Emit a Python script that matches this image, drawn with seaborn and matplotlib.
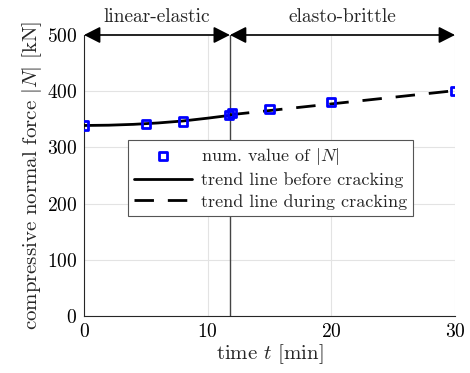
import numpy as np
import pandas as pd
import matplotlib
matplotlib.use("Agg")
import matplotlib.pyplot as plt
import seaborn as sns

# ==========================
# Data
# ==========================

t_points = [0, 5, 8, 11.7, 12.0, 15, 20, 30]
n_points = [339, 341, 346, 357, 361, 368, 381, 401]

t_before = [0, 2, 4, 6, 8, 10, 11.8]
n_before = [339, 339.5, 341, 343.5, 347, 352, 357]

t_during = [11.8, 30]
n_during = [358, 401]

t_crack = 11.8
phase_labels = ["linear-elastic", "elasto-brittle"]

# ==========================
# Style
# ==========================

sns.set_style("white")
plt.rcParams["font.family"] = ["cmr10", "DejaVu Serif"]
plt.rcParams["mathtext.fontset"] = "cm"
plt.rcParams["axes.formatter.use_mathtext"] = True
plt.rcParams["font.size"] = 14

fig = plt.figure(figsize=(4.7, 3.73), dpi=100)
ax = fig.add_axes([0.1787, 0.1528, 0.7894, 0.7534])

pts = pd.DataFrame({"t": t_points, "N": n_points})
before = pd.DataFrame({"t": t_before, "N": n_before})
during = pd.DataFrame({"t": t_during, "N": n_during})

sns.lineplot(data=before, x="t", y="N", ax=ax, color="black", lw=2,
             label="trend line before cracking", zorder=3)
sns.lineplot(data=during, x="t", y="N", ax=ax, color="black", lw=2,
             label="trend line during cracking", zorder=3)
ax.lines[-1].set_dashes([7, 5])
sns.scatterplot(data=pts, x="t", y="N", ax=ax, marker="s", s=34,
                facecolor="none", edgecolor="blue", linewidth=2,
                label="num. value of $|N|$", zorder=4)

ax.axvline(t_crack, color="#444444", lw=1, zorder=2)

ax.set_xlim(0, 30)
ax.set_ylim(0, 500)
ax.set_xticks([0, 10, 20, 30])
ax.set_yticks([0, 100, 200, 300, 400, 500])
ax.grid(True, color="#e3e3e3", lw=0.8)
ax.set_axisbelow(True)
for s in ["top", "right"]:
    ax.spines[s].set_visible(False)
for s in ["left", "bottom"]:
    ax.spines[s].set_color("#262626")
    ax.spines[s].set_linewidth(0.8)
ax.tick_params(direction="in", length=4, width=0.8, colors="#262626",
               labelcolor="black", labelsize=14, pad=5)

ax.set_xlabel("time $t$ [min]", fontsize=15, labelpad=1)
ax.set_ylabel("compressive normal force $|N|$ [kN]", fontsize=15, labelpad=2)

# phase arrows on top
arrow = dict(arrowstyle="<|-|>,head_length=0.55,head_width=0.28",
             color="black", lw=1.2, mutation_scale=18, shrinkA=0, shrinkB=0)
ax.annotate("", xy=(0, 500), xytext=(t_crack, 500), arrowprops=arrow,
            annotation_clip=False)
ax.annotate("", xy=(t_crack, 500), xytext=(30, 500), arrowprops=arrow,
            annotation_clip=False)
ax.text(t_crack / 2, 516, phase_labels[0], ha="center", va="bottom",
        fontsize=14)
ax.text((t_crack + 30) / 2, 516, phase_labels[1], ha="center", va="bottom",
        fontsize=14)

handles, labels = ax.get_legend_handles_labels()
order = [2, 0, 1]
leg = ax.legend([handles[i] for i in order], [labels[i] for i in order],
                loc="upper left", bbox_to_anchor=(0.118, 0.627),
                fontsize=13, frameon=True, fancybox=False,
                edgecolor="#555555", framealpha=1, borderpad=0.35,
                handlelength=3.2, labelspacing=0.3, borderaxespad=0,
                handletextpad=0.5)
leg.get_frame().set_linewidth(0.8)

fig.savefig("out.png", dpi=100)
plt.close(fig)
